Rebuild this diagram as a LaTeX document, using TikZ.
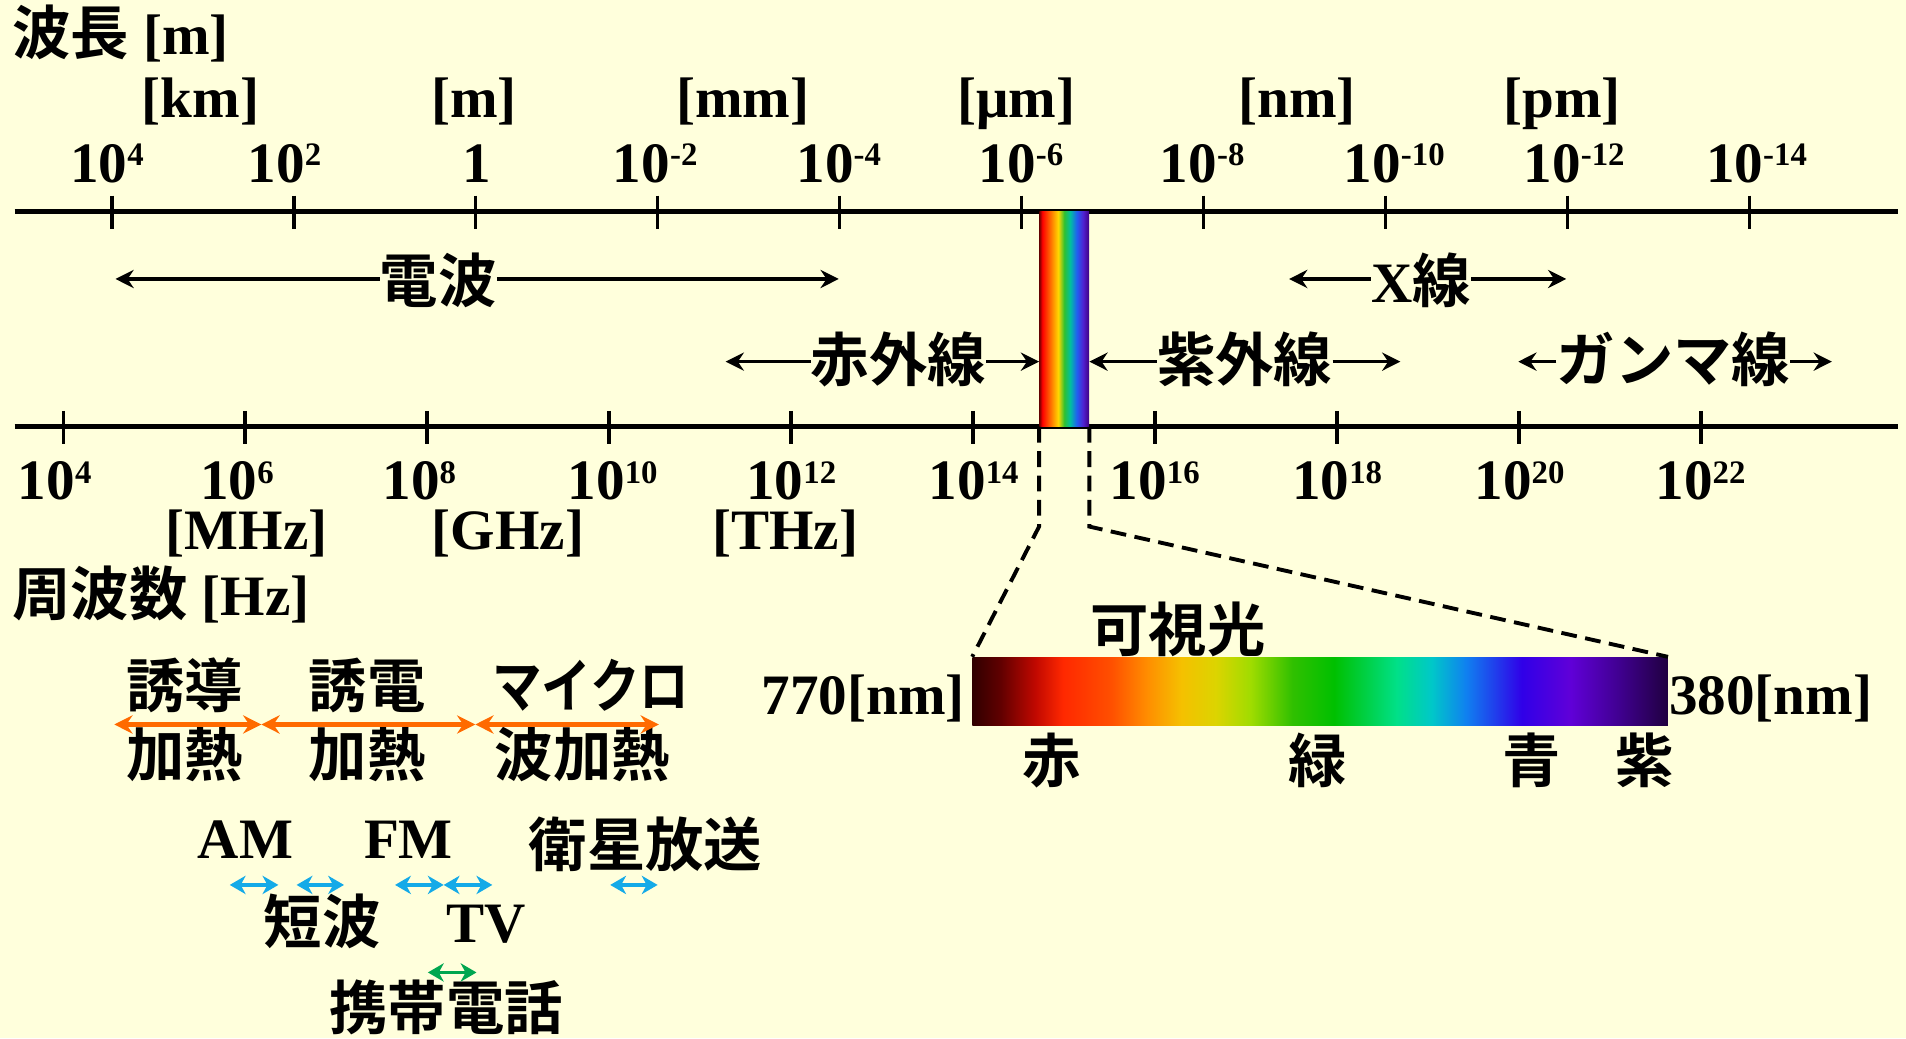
\documentclass[tikz,border=0pt]{standalone}
\usepackage{fontspec}
\usepackage{graphicx}
\setmainfont{Liberation Serif}
\newfontfamily\jp{Noto Sans CJK JP Bold}[BoldFont={Noto Sans CJK JP Bold}]
\usetikzlibrary{arrows.meta}
\definecolor{bgc}{RGB}{255,255,220}
\definecolor{orc}{RGB}{255,106,0}
\definecolor{blc}{RGB}{20,170,232}
\definecolor{grc}{RGB}{0,166,80}
% rainbow bar colours
\definecolor{ra}{HTML}{700000}
\definecolor{rb}{HTML}{FF0000}
\definecolor{rc}{HTML}{FF8000}
\definecolor{rd}{HTML}{FFD800}
\definecolor{re}{HTML}{30C030}
\definecolor{rf}{HTML}{00C0A0}
\definecolor{rg}{HTML}{2060F0}
\definecolor{rh}{HTML}{5020D0}
\definecolor{ri}{HTML}{400080}
% visible spectrum colours
\definecolor{va}{HTML}{300000}
\definecolor{vb}{HTML}{600000}
\definecolor{vc}{HTML}{C00800}
\definecolor{vd}{HTML}{FF2800}
\definecolor{ve}{HTML}{FF5000}
\definecolor{vf}{HTML}{FF8C00}
\definecolor{vg}{HTML}{F5C000}
\definecolor{vh}{HTML}{DCD400}
\definecolor{vi}{HTML}{A0DC00}
\definecolor{vj}{HTML}{30C000}
\definecolor{vk}{HTML}{00C000}
\definecolor{vl}{HTML}{00E088}
\definecolor{vm}{HTML}{00C8C8}
\definecolor{vn}{HTML}{1080F0}
\definecolor{vo}{HTML}{3000E8}
\definecolor{vp}{HTML}{6000D8}
\definecolor{vq}{HTML}{400090}
\definecolor{vr}{HTML}{200040}
\pgfdeclarehorizontalshading{rainbowsh}{100bp}{color(0bp)=(ra); color(25bp)=(ra); color(28bp)=(rb); color(37.5bp)=(rc); color(44bp)=(rd); color(50bp)=(re); color(56bp)=(rf); color(62.5bp)=(rg); color(69bp)=(rh); color(75bp)=(ri); color(100bp)=(ri)}
\pgfdeclarehorizontalshading{visiblesh}{100bp}{color(0bp)=(va); color(25bp)=(va); color(27bp)=(vb); color(29.5bp)=(vc); color(31.5bp)=(vd); color(35bp)=(ve); color(37.5bp)=(vf); color(40bp)=(vg); color(42.5bp)=(vh); color(45bp)=(vi); color(48bp)=(vj); color(51bp)=(vk); color(55.5bp)=(vl); color(58bp)=(vm); color(60.5bp)=(vn); color(64.5bp)=(vo); color(68bp)=(vp); color(71.5bp)=(vq); color(75bp)=(vr); color(100bp)=(vr)}
\newcommand\J[1]{{\jp\fontsize{48}{52}\selectfont #1}}
\newcommand\ee[1]{10\raisebox{13.5pt}{\fontsize{27}{30}\selectfont #1}}
\begin{document}
\begin{tikzpicture}[x=1pt,y=-1pt,
  lat/.style={font=\fontsize{47}{52}\selectfont\bfseries, inner sep=0pt, anchor=base},
  jpt/.style={font=\fontsize{48}{52}\selectfont\jp, inner sep=0pt, anchor=base},
  axisline/.style={line width=3.6pt},
  tickline/.style={line width=2.8pt},
  arr/.style={line width=3pt, -{Stealth[length=15pt,width=15pt,inset=5pt]}},
  dashline/.style={line width=3.2pt, dash pattern=on 13pt off 7pt},
  harr/.style={draw=orc, line width=3.4pt, {Stealth[length=15pt,width=15pt,inset=5pt]}-{Stealth[length=15pt,width=15pt,inset=5pt]}},
  barr/.style={draw=blc, line width=2.6pt, {Stealth[length=13pt,width=15pt,inset=4pt]}-{Stealth[length=13pt,width=15pt,inset=4pt]}},
  garr/.style={draw=grc, line width=2.6pt, {Stealth[length=13pt,width=15pt,inset=4pt]}-{Stealth[length=13pt,width=15pt,inset=4pt]}}
]
\fill[bgc] (0,0) rectangle (1568,854);
\useasboundingbox (0,0) rectangle (1568,854);

% axes
\draw[axisline] (12,174) -- (1561,174);
\draw[axisline] (12,351) -- (1561,351);
\foreach \i in {0,...,9} {
  \draw[tickline] ({92+149.7*\i},161) -- ++(0,27);
  \draw[tickline] ({52+149.7*\i},338) -- ++(0,27);
}

% rainbow bar and visible spectrum
\node[shade, shading=rainbowsh, inner sep=0pt, minimum width=41pt, minimum height=177pt] (rbar) at (875.5,262.5) {};
\node[shade, shading=visiblesh, inner sep=0pt, minimum width=572pt, minimum height=56.5pt] (vis) at (1086,568.8) {};
\draw[dashline] (rbar.south west) -- ++(0,82) -- (vis.north west);
\draw[dashline] (rbar.south east) -- ++(0,82) -- (vis.north east);

% wavelength header
\node[lat, anchor=base west] (wlt) at (10,45) {\J{波長} [m]};
\node[lat] (ukm) at (165,97) {[km]};
\node[lat] (um) at (390,97) {[m]};
\node[lat] (umm) at (611,97) {[mm]};
\node[lat] (uum) at (836,97) {[μm]};
\node[lat] (unm) at (1067,97) {[nm]};
\node[lat] (upm) at (1285,97) {[pm]};
\node[lat] (w1) at (88,150) {\ee{4}};
\node[lat] (w2) at (234,150) {\ee{2}};
\node[lat] (w3) at (392,150) {1};
\node[lat] (w4) at (539,150) {\ee{-2}};
\node[lat] (w5) at (690,150) {\ee{-4}};
\node[lat] (w6) at (840,150) {\ee{-6}};
\node[lat] (w7) at (989,150) {\ee{-8}};
\node[lat] (w8) at (1147,150) {\ee{-10}};
\node[lat] (w9) at (1295,150) {\ee{-12}};
\node[lat] (w10) at (1445,150) {\ee{-14}};

% frequency labels
\node[lat] (f1) at (45,411) {\ee{4}};
\node[lat] (f2) at (195,411) {\ee{6}};
\node[lat] (f3) at (345,411) {\ee{8}};
\node[lat] (f4) at (504,411) {\ee{10}};
\node[lat] (f5) at (651,411) {\ee{12}};
\node[lat] (f6) at (801,411) {\ee{14}};
\node[lat] (f7) at (950,411) {\ee{16}};
\node[lat] (f8) at (1100,411) {\ee{18}};
\node[lat] (f9) at (1250,411) {\ee{20}};
\node[lat] (f10) at (1399,411) {\ee{22}};
\node[lat] (uMHz) at (203,452) {[MHz]};
\node[lat] (uGHz) at (418,452) {[GHz]};
\node[lat] (uTHz) at (646,452) {[THz]};
\node[lat, anchor=base west] (flt) at (10,506) {\J{周波数} [Hz]};

% bands
\node[jpt] (radio) at (360.5,249) {電波};
\coordinate (radioL) at (95,229.5);
\coordinate (radioR) at (690,229.5);
\draw[arr] (radio.west |- radioL) -- (radioL);
\draw[arr] (radio.east |- radioR) -- (radioR);

\node[jpt] (ir) at (739,314) {赤外線};
\coordinate (irL) at (597,297.5);
\draw[arr] (ir.west |- irL) -- (irL);
\draw[arr] (ir.east |- irL) -- (rbar.west |- irL);

\node[lat] (xray) at (1169,248.5) {X\J{線}};
\coordinate (xL) at (1060.5,229.5);
\coordinate (xR) at (1288.5,229.5);
\draw[arr] (xray.west |- xL) -- (xL);
\draw[arr] (xray.east |- xR) -- (xR);

\node[jpt] (uv) at (1024,314) {紫外線};
\coordinate (uvR) at (1152,297.5);
\draw[arr] (uv.west |- uvR) -- (rbar.east |- uvR);
\draw[arr] (uv.east |- uvR) -- (uvR);

\node[jpt] (gam) at (1376.6,314) {ガンマ線};
\coordinate (gL) at (1249,297.5);
\coordinate (gR) at (1507,297.5);
\draw[arr] (gam.west |- gL) -- (gL);
\draw[arr] (gam.east |- gR) -- (gR);

% visible light labels
\node[jpt] (kashi) at (969,536) {可視光};
\node[lat, anchor=base east] (v770) at (794,588) {770[nm]};
\node[lat, anchor=base west] (v380) at (1373,588) {380[nm]};
\node[jpt] (cr) at (865,644) {赤};
\node[jpt] (cg) at (1084,644) {緑};
\node[jpt] (cb) at (1260,644) {青};
\node[jpt] (cv) at (1353,644) {紫};

% heating
\node[jpt] (h1a) at (152,582) {誘導};
\node[jpt] (h1b) at (152,639) {加熱};
\node[jpt] (h2a) at (302,582) {誘電};
\node[jpt] (h2b) at (302,639) {加熱};
\node[jpt] (h3a) at (486,582) {\scalebox{0.85}[1]{マイクロ}};
\node[jpt] (h3b) at (479,639) {波加熱};
\coordinate (hp0) at (94,596);
\coordinate (hp1) at (215,596);
\coordinate (hp2) at (391,596);
\coordinate (hp3) at (542,596);
\draw[harr] (hp0) -- (hp1);
\draw[harr] (hp1) -- (hp2);
\draw[harr] (hp2) -- (hp3);

% broadcasting
\node[lat] (am) at (202,706) {AM};
\node[lat] (fm) at (336,706) {FM};
\node[jpt] (sat) at (531,713) {衛星放送};
\node[jpt] (sw) at (265,776) {短波};
\node[lat] (tv) at (400,775) {TV};
\node[jpt] (mob) at (367,847) {携帯電話};
\coordinate (b1a) at (189,728); \coordinate (b1b) at (229,728);
\coordinate (b2a) at (244,728); \coordinate (b2b) at (283,728);
\coordinate (b3a) at (325,728); \coordinate (b3b) at (365,728);
\coordinate (b4a) at (365,728); \coordinate (b4b) at (405,728);
\coordinate (b5a) at (502,728); \coordinate (b5b) at (541,728);
\draw[barr] (b1a) -- (b1b);
\draw[barr] (b2a) -- (b2b);
\draw[barr] (b3a) -- (b3b);
\draw[barr] (b4a) -- (b4b);
\draw[barr] (b5a) -- (b5b);
\coordinate (g1a) at (352,800); \coordinate (g1b) at (392,800);
\draw[garr] (g1a) -- (g1b);
\end{tikzpicture}
\end{document}
